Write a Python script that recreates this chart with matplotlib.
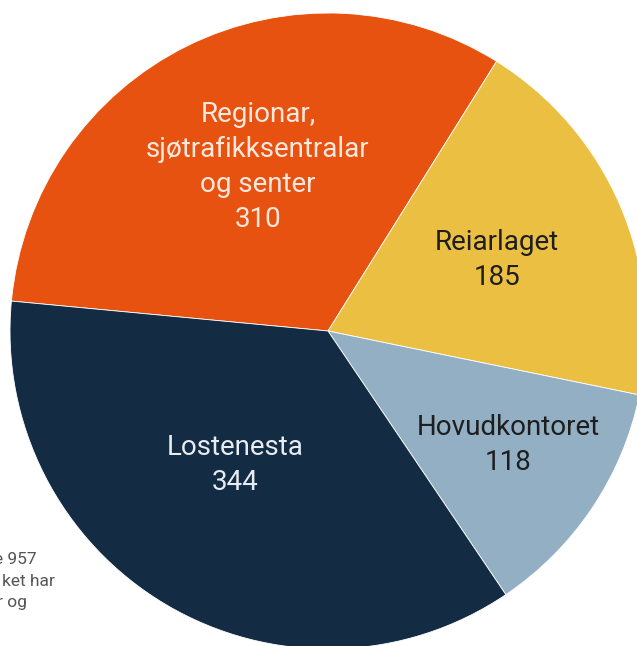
import numpy as np
import matplotlib
matplotlib.use("Agg")
import matplotlib.pyplot as plt

# data
labels = ["Regionar,\nsjøtrafikksentralar\nog senter", "Reiarlaget", "Hovudkontoret", "Lostenesta"]
values = [310, 185, 118, 344]
colors = ["#E85210", "#EBBF41", "#93AFC4", "#132B43"]
text_colors = ["#FBE9DF", "#1E1E1E", "#1E1E1E", "#E6ECF2"]
# label placement: radius fraction and angle tweak (deg) from wedge middle
label_radius = [0.561, 0.576, 0.670, 0.512]
label_dang = [-3.2, -0.4, 1.4, -3.9]

W, H = 637, 646
cx, cy, r = 328, H - 331, 318

fig = plt.figure(figsize=(W / 100, H / 100), dpi=100)
ax = fig.add_axes([0, 0, 1, 1])

wedges, _ = ax.pie(values, colors=colors, startangle=174.6, counterclock=False,
                   center=(cx, cy), radius=r, frame=True,
                   wedgeprops=dict(edgecolor="white", linewidth=0.6))
ax.set_xlim(0, W)
ax.set_ylim(0, H)
ax.set_aspect("equal")
ax.axis("off")

font = dict(family=["Roboto", "DejaVu Sans"], fontweight="normal", fontsize=20)
for w, lab, val, tc, lr, da in zip(wedges, labels, values, text_colors, label_radius, label_dang):
    ang = np.deg2rad((w.theta1 + w.theta2) / 2 + da)
    x = cx + lr * r * np.cos(ang)
    y = cy + lr * r * np.sin(ang)
    ax.text(x, y, f"{lab}\n{val}", ha="center", va="center", color=tc,
            linespacing=1.38, **font)

# cut-off note at the left edge
note = dict(family=["Roboto", "DejaVu Sans"], fontweight="normal", fontsize=12.5, color="#555555")
ax.text(37, H - 560, "e 957", ha="right", va="center", **note)
ax.text(55, H - 581, "ket har", ha="right", va="center", **note)
ax.text(27, H - 603, "r og", ha="right", va="center", **note)

fig.savefig("out.png", dpi=100)
